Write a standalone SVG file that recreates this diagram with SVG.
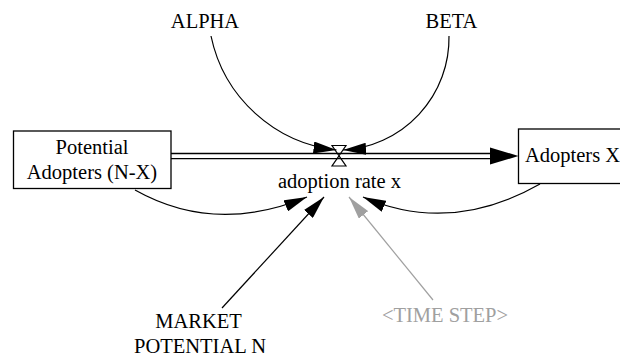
<svg xmlns="http://www.w3.org/2000/svg" width="620" height="356" viewBox="0 0 620 356">
<style>
  text { font-family: "Liberation Serif", "Times New Roman", serif; font-size: 20.5px; fill: #000; }
  .mid { text-anchor: middle; }
  .shadowtxt { fill: #a0a0a0; }
  .box { fill: #fff; stroke: #000; stroke-width: 1.3; }
  .link { fill: none; stroke: #000; stroke-width: 1.2; marker-end: url(#ah); }
  .glink { fill: none; stroke: #a0a0a0; stroke-width: 1.2; marker-end: url(#ahg); }
  .pipe { fill: none; stroke: #000; stroke-width: 1.3; }
  .valve { fill: none; stroke: #000; stroke-width: 1.2; }
</style>
<defs>
  <marker id="ah" markerUnits="userSpaceOnUse" markerWidth="23" markerHeight="12" viewBox="0 0 23 12" refX="23" refY="6" orient="auto">
    <path d="M0,0 L23,6 L0,12 Z" fill="#000"/>
  </marker>
  <marker id="ahg" markerUnits="userSpaceOnUse" markerWidth="23" markerHeight="12" viewBox="0 0 23 12" refX="23" refY="6" orient="auto">
    <path d="M0,0 L23,6 L0,12 Z" fill="#a0a0a0"/>
  </marker>
</defs>

<g id="connectors">
  <line class="pipe" x1="171" y1="153.5" x2="491" y2="153.5"/>
  <line class="pipe" x1="171" y1="158.7" x2="491" y2="158.7"/>
  <polygon points="490,147.5 518.5,156 490,164.5" fill="#000"/>
  <path class="link" d="M211,36 A144.4,144.4 0 0 0 336.5,150"/>
  <path class="link" d="M449,36 A112.2,112.2 0 0 1 343,150"/>
  <path class="link" d="M135,190 Q215,235 307,197"/>
  <path class="link" d="M540,184 Q450,235 363,197"/>
  <path class="link" d="M222,308 L324,197"/>
  <path class="glink" d="M433,300 L349,197"/>
</g>

<g id="potential_adopters">
  <rect class="box" x="13.5" y="131" width="157.5" height="57.5"/>
  <text class="mid" x="92" y="154">Potential</text>
  <text class="mid" x="92" y="179">Adopters (N-X)</text>
</g>

<g id="adopters_x">
  <rect class="box" x="518.5" y="129" width="110" height="54.5"/>
  <text x="525" y="161.5">Adopters X</text>
</g>

<g id="adoption_rate">
  <path class="valve" d="M332,145.5 L346,145.5 L339,155.8 Z M339,155.8 L332,166 L346,166 Z"/>
  <text class="mid" x="339.5" y="188">adoption rate x</text>
</g>

<g id="alpha">
  <text class="mid" x="205" y="28">ALPHA</text>
</g>

<g id="beta">
  <text class="mid" x="451.5" y="28">BETA</text>
</g>

<g id="market_potential">
  <text class="mid" x="198.5" y="328">MARKET</text>
  <text class="mid" x="200" y="353">POTENTIAL N</text>
</g>

<g id="time_step">
  <text class="mid shadowtxt" x="445" y="322">&lt;TIME STEP&gt;</text>
</g>
</svg>
